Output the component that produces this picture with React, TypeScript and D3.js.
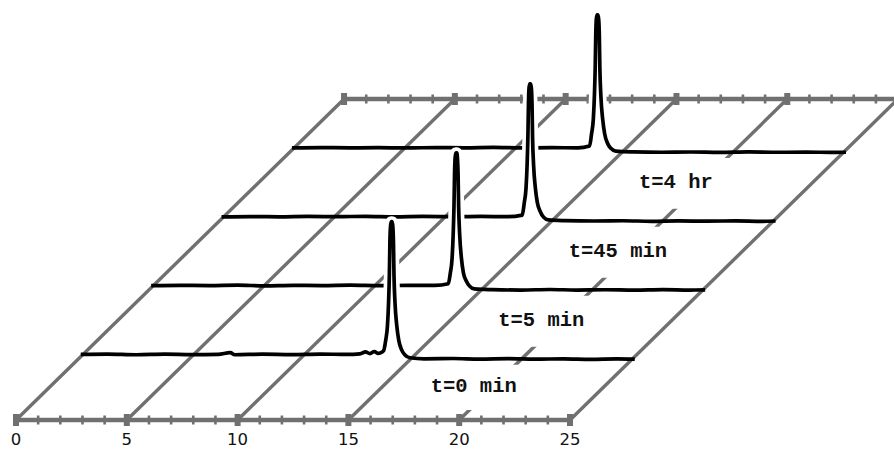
import * as d3 from "d3";

// retention time axis (min)
const majorTicks = [0, 5, 10, 15, 20, 25];

// one chromatogram per sampling time, front to back
const traceLabels = ["t=0 min", "t=5 min", "t=45 min", "t=4 hr"];

// [retention time (min), relative absorbance]
const trace0: [number, number][] = [
  [0.0, 0.016], [1.2, 0.019], [2.5, 0.014], [3.8, 0.018], [5.0, 0.015], [6.2, 0.017],
  [6.75, 0.03], [6.95, 0.014], [8.2, 0.018], [9.5, 0.015], [10.8, 0.019], [12.0, 0.016],
  [12.6, 0.02], [12.85, 0.035], [13.05, 0.022], [13.25, 0.038], [13.4, 0.024], [13.55, 0.03],
  [13.67, 0.045], [13.76, 0.12], [13.84, 0.23], [13.89, 0.4], [13.925, 0.6], [13.95, 0.85],
  [13.975, 0.96], [14.01, 1.0], [14.05, 1.0], [14.085, 0.96], [14.11, 0.85], [14.135, 0.6],
  [14.18, 0.4], [14.26, 0.23], [14.35, 0.12], [14.48, 0.05], [14.63, 0.012], [14.85, -0.008],
  [15.5, -0.016], [16.8, -0.014], [18.0, -0.018], [19.3, -0.015], [20.5, -0.019],
  [21.8, -0.016], [23.0, -0.02], [24.2, -0.017], [25.0, -0.019],
];

const trace1: [number, number][] = [
  [0.0, 0.015], [1.3, 0.018], [2.6, 0.016], [3.9, 0.019], [5.1, 0.014], [6.4, 0.018],
  [7.7, 0.016], [9.0, 0.019], [10.3, 0.015], [11.6, 0.018], [12.8, 0.017], [13.41, 0.03],
  [13.5, 0.11], [13.58, 0.22], [13.63, 0.4], [13.665, 0.6], [13.69, 0.84], [13.715, 0.96],
  [13.75, 1.0], [13.79, 1.0], [13.825, 0.95], [13.85, 0.84], [13.875, 0.6], [13.92, 0.4],
  [14.0, 0.22], [14.09, 0.11], [14.22, 0.05], [14.37, 0.012], [14.59, -0.009],
  [15.4, -0.014], [16.7, -0.017], [18.0, -0.013], [19.2, -0.017], [20.5, -0.015],
  [21.8, -0.018], [23.1, -0.014], [24.3, -0.017], [25.0, -0.016],
];

const trace2: [number, number][] = [
  [0.0, 0.014], [1.3, 0.017], [2.6, 0.015], [3.9, 0.018], [5.2, 0.016], [6.5, 0.019],
  [7.8, 0.015], [9.1, 0.018], [10.4, 0.016], [11.7, 0.018], [12.9, 0.016], [13.57, 0.028],
  [13.66, 0.12], [13.74, 0.23], [13.79, 0.41], [13.825, 0.62], [13.85, 0.86], [13.875, 0.97],
  [13.91, 1.0], [13.95, 1.0], [13.985, 0.96], [14.01, 0.85], [14.035, 0.6], [14.08, 0.4],
  [14.16, 0.23], [14.25, 0.12], [14.38, 0.055], [14.53, 0.013], [14.75, -0.008],
  [15.5, -0.013], [16.8, -0.016], [18.1, -0.014], [19.4, -0.018], [20.6, -0.015],
  [21.9, -0.017], [23.2, -0.015], [24.4, -0.018], [25.0, -0.016],
];

const trace3: [number, number][] = [
  [0.0, 0.015], [1.3, 0.018], [2.6, 0.016], [3.9, 0.017], [5.2, 0.015], [6.5, 0.018],
  [7.8, 0.016], [9.1, 0.019], [10.4, 0.015], [11.7, 0.017], [12.9, 0.016], [13.43, 0.03],
  [13.52, 0.12], [13.6, 0.23], [13.65, 0.41], [13.685, 0.62], [13.71, 0.86], [13.735, 0.97],
  [13.77, 1.0], [13.81, 1.0], [13.845, 0.96], [13.87, 0.85], [13.895, 0.6], [13.94, 0.4],
  [14.02, 0.23], [14.11, 0.12], [14.24, 0.05], [14.39, 0.012], [14.61, -0.008],
  [15.4, -0.014], [16.7, -0.017], [18.0, -0.015], [19.3, -0.018], [20.6, -0.014],
  [21.9, -0.017], [23.2, -0.016], [24.4, -0.018], [25.0, -0.017],
];

const traces = [trace0, trace1, trace2, trace3];

const width = 894;
const height = 449;
const baseY = 420;       // front edge of the floor
const floorDepth = 321;  // vertical extent of the floor in px
const slant = 1.022;     // horizontal shift per px of depth
const zMin = -0.92;      // front edge, in trace index units
const zMax = 3.74;       // back edge
const gridColor = "#707070";
const labelT = 17.25;    // where the band labels start

const xScale = d3.scaleLinear().domain([0, 25]).range([16, 570]);
const zScale = d3.scaleLinear().domain([zMin, zMax]).range([0, floorDepth]);
const yScale = d3.scaleLinear().domain([0, 1]).range([0, 135]);

function project(t: number, z: number, v = 0): [number, number] {
  const dz = zScale(z);
  return [xScale(t) + dz * slant, baseY - dz - yScale(v)];
}

// z for a screen offset (px) from a given z
function zOffset(z: number, px: number) {
  return zScale.invert(zScale(z) + px);
}

export default function App() {
  const minorTicks = xScale.ticks(25);

  const gridLines = majorTicks.map((t) => {
    const [x1, y1] = project(t, zMin);
    const [x2, y2] = project(t, zMax);
    return <line key={t} x1={x1} y1={y1} x2={x2} y2={y2} stroke={gridColor} strokeWidth={3.4} />;
  });

  const axisEdge = (z: number) => {
    const [x1, y1] = project(0, z);
    const [x2, y2] = project(25, z);
    return (
      <g key={"edge" + z}>
        <line x1={x1} y1={y1} x2={x2} y2={y2} stroke={gridColor} strokeWidth={4.5} />
        {minorTicks.map((t) => {
          const [x, y] = project(t, z);
          const major = majorTicks.includes(t);
          const w = major ? 6 : 2.6;
          const h = major ? 12 : 9;
          return <rect key={t} x={x - w / 2} y={y - h / 2} width={w} height={h} fill={gridColor} />;
        })}
      </g>
    );
  };

  // white label boxes hide the 20-min gridline inside each band
  const masks = traceLabels.map((_, i) => {
    const lower = i === 0 ? zMin : i - 1;
    const zA = zOffset(lower, 10);
    const zB = zOffset(i, -8);
    const pts = [project(19.4, zA), project(20.6, zA), project(20.6, zB), project(19.4, zB)];
    return <polygon key={i} points={pts.map((p) => p.join(",")).join(" ")} fill="#fff" />;
  });

  const drawOrder = traces.map((_, i) => i).reverse();

  const traceEls = drawOrder.map((i) => {
    const data = traces[i];
    const line = d3
      .line<[number, number]>()
      .x((d) => project(d[0], i, d[1])[0])
      .y((d) => project(d[0], i, d[1])[1])
      .curve(d3.curveMonotoneX);
    const halo = d3
      .area<[number, number]>()
      .defined((d) => d[1] > 0.042)
      .x((d) => project(d[0], i, d[1])[0])
      .y0((d) => project(d[0], i, 0)[1])
      .y1((d) => project(d[0], i, d[1])[1])
      .curve(d3.curveMonotoneX);
    return (
      <g key={i}>
        <path d={halo(data) ?? ""} fill="#fff" stroke="#fff" strokeWidth={11} strokeLinejoin="round" />
        <path d={line(data) ?? ""} fill="none" stroke="#000" strokeWidth={3.7} strokeLinejoin="round" strokeLinecap="butt" />
      </g>
    );
  });

  const labels = traceLabels.map((label, i) => {
    const lower = i === 0 ? zMin : i - 1;
    const mid = (lower + i) / 2;
    const [x, y] = project(labelT, mid);
    return (
      <text key={label} x={x} y={y + 4} fontFamily="'Liberation Mono', monospace" fontWeight="bold" fontSize={20.5} fill="#111" xmlSpace="preserve">
        {label}
      </text>
    );
  });

  const tickLabels = majorTicks.map((t) => (
    <text key={t} x={xScale(t)} y={445} textAnchor="middle" fontFamily="'DejaVu Sans', sans-serif" fontSize={16.5} fill="#111">
      {t}
    </text>
  ));

  return (
    <svg width={width} height={height} style={{ position: "absolute", left: 0, top: 0, background: "#fff" }}>
      {gridLines}
      {axisEdge(zMin)}
      {axisEdge(zMax)}
      {masks}
      {traceEls}
      {labels}
      {tickLabels}
    </svg>
  );
}
